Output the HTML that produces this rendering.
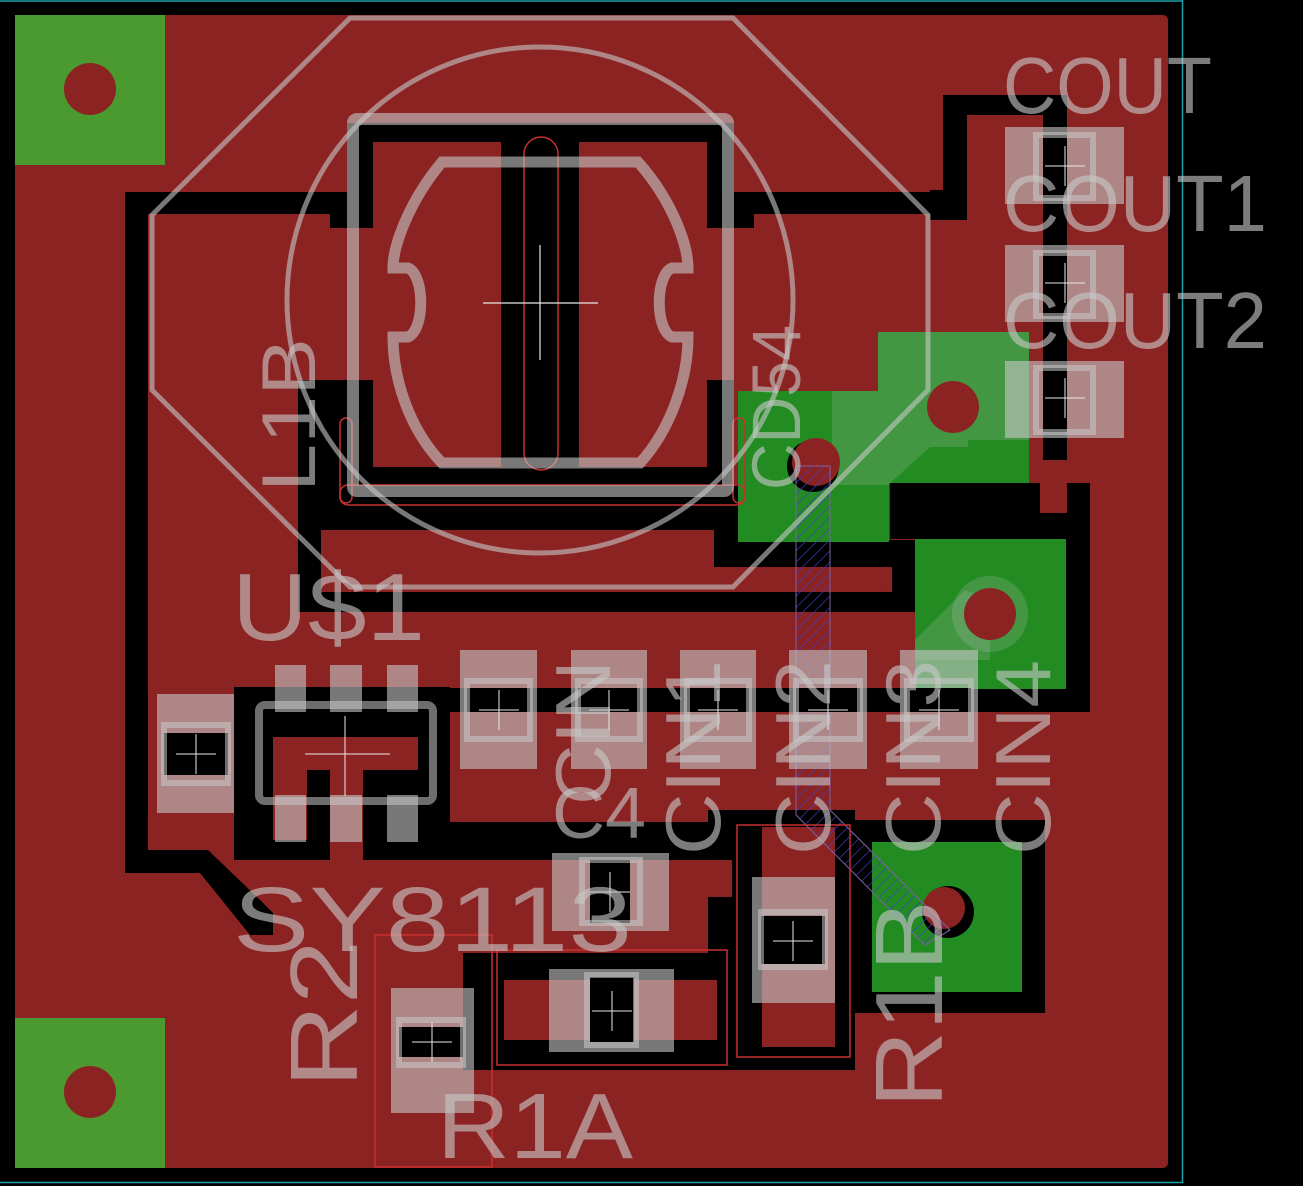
<!DOCTYPE html>
<html><head><meta charset="utf-8"><style>
html,body{margin:0;padding:0;background:#000;}
svg{display:block;}
text{font-family:"Liberation Sans",sans-serif;fill:#c8c8c8;fill-opacity:.62;}
</style></head><body>
<svg width="1303" height="1186" viewBox="0 0 1303 1186" xmlns="http://www.w3.org/2000/svg">
<defs>
<pattern id="h" width="8" height="8" patternUnits="userSpaceOnUse" patternTransform="rotate(45)">
<rect width="8" height="8" fill="none"/><line x1="0" y1="0" x2="0" y2="8" stroke="#4040c8" stroke-width="1.5"/>
</pattern>
</defs>
<rect width="1303" height="1186" fill="#000"/>
<line x1="0" y1="1" x2="1183" y2="1" stroke="#1fa0a8" stroke-width="1.5"/>
<line x1="1182.5" y1="0" x2="1182.5" y2="1183" stroke="#1fa0a8" stroke-width="1.5"/>
<line x1="0" y1="1182.5" x2="1183" y2="1182.5" stroke="#1fa0a8" stroke-width="1.5"/>
<rect x="15" y="15" width="1153" height="1153" rx="5" fill="#8b2323"/>

<g fill="#000">
<rect x="125" y="192" width="248" height="22"/>
<rect x="125" y="192" width="23" height="680"/>
<path d="M125,850 L208,850 L260,900 L273,913 L273,935 L250,935 L200,873 L125,873Z"/>
<rect x="330" y="205" width="43" height="23"/>
<rect x="347" y="123" width="387" height="19"/>
<rect x="347" y="123" width="26" height="105"/>
<rect x="707" y="123" width="27" height="105"/>
<rect x="734" y="192" width="210" height="22"/>
<rect x="707" y="205" width="47" height="23"/>
<rect x="943" y="95" width="24" height="125"/>
<rect x="930" y="190" width="37" height="30"/>
<rect x="943" y="95" width="110" height="20"/>
<rect x="1043" y="95" width="24" height="370"/>
<rect x="501" y="142" width="78" height="325"/>
<rect x="347" y="380" width="26" height="104"/>
<rect x="707" y="380" width="27" height="104"/>
<rect x="347" y="467" width="387" height="17"/>
<rect x="298" y="380" width="75" height="104"/>
<rect x="298" y="484" width="23" height="128"/>
<rect x="298" y="484" width="439" height="46"/>
<rect x="714" y="484" width="24" height="83"/>
<rect x="714" y="540" width="201" height="27"/>
<rect x="892" y="540" width="23" height="72"/>
<rect x="298" y="592" width="617" height="20"/>
<rect x="890" y="483" width="200" height="56"/>
<rect x="1066" y="483" width="24" height="222"/>
<rect x="915" y="689" width="175" height="16"/>
<rect x="418" y="688" width="672" height="24"/>
<rect x="234" y="687" width="216" height="173"/>
<rect x="438" y="822" width="294" height="38"/>
<rect x="708" y="810" width="147" height="50"/>
<rect x="463" y="953" width="300" height="117"/>
<rect x="708" y="897" width="55" height="96"/>
<rect x="732" y="827" width="123" height="243"/>
<rect x="855" y="820" width="190" height="193"/>
</g>
<g fill="#8b2323">
<rect x="321" y="530" width="393" height="62"/>
<rect x="321" y="567" width="571" height="25" rx="10"/>
<rect x="273" y="737" width="145" height="33"/>
<rect x="273" y="770" width="34" height="70"/>
<rect x="330" y="770" width="33" height="90"/>
<rect x="504" y="980" width="213" height="60"/>
<rect x="1040" y="460" width="27" height="53"/>
<rect x="762" y="827" width="73" height="220"/>
</g>

<rect x="15" y="15" width="150" height="150" fill="#4a9a30"/>
<circle cx="90" cy="89" r="26" fill="#8b2323"/>
<rect x="15" y="1018" width="150" height="150" fill="#4a9a30"/>
<circle cx="90" cy="1092" r="26" fill="#8b2323"/>
<g fill="#228b22">
<rect x="738" y="391" width="151" height="151"/>
<rect x="878" y="332" width="151" height="151"/>
<rect x="915" y="539" width="151" height="150"/>
<rect x="872" y="842" width="150" height="150"/>
</g>
<path d="M832,391 L878,391 L878,332 L1029,332 L1029,440 L968,440 L968,447 L930,447 L888,485 L832,485Z" fill="#c8c8c8" fill-opacity=".2"/>
<circle cx="990" cy="614" r="38" fill="#c8c8c8" fill-opacity=".2"/>
<path d="M915,640 L965,590 L990,600 L990,660 L915,660Z" fill="#c8c8c8" fill-opacity=".2"/>
<circle cx="953" cy="407" r="26" fill="#8b2323"/>
<circle cx="813" cy="466" r="26" fill="#000"/>
<circle cx="816" cy="462" r="24" fill="#8b2323"/>
<circle cx="990" cy="614" r="26" fill="#8b2323"/>
<circle cx="948" cy="912" r="26" fill="#000"/>
<circle cx="944" cy="908" r="21" fill="#8b2323"/>

<path d="M796,466 L830,466 L830,810 L950,930 L925,945 L796,815Z" fill="url(#h)" stroke="#8060a0" stroke-width="1" fill-opacity=".9"/>

<g fill="none" stroke="#c83030" stroke-width="1.5">
<rect x="375" y="935" width="117" height="232"/>
<rect x="497" y="950" width="230" height="115"/>
<rect x="737" y="825" width="113" height="232"/>
<rect x="340" y="418" width="12" height="85" rx="6"/>
<rect x="733" y="418" width="12" height="85" rx="6"/>
<rect x="340" y="485" width="405" height="20" rx="8"/>
<rect x="524" y="137" width="34" height="333" rx="17"/>
</g>

<g stroke="#c8c8c8" stroke-opacity=".6" fill="none">
<path d="M152,215 L350,18 L733,18 L928,215 L928,390 L733,587 L350,587 L152,390Z" stroke-width="5"/>
<circle cx="540" cy="300" r="253" stroke-width="5"/>
<rect x="353" y="119" width="375" height="372" stroke-width="12" rx="4"/>
<path d="M442,162 L638,162 C672,200 688,245 688,268 L672,268 C655,275 655,330 672,337 L688,337 C688,380 670,430 640,463 L442,463 C410,430 393,380 393,337 L408,337 C425,330 425,275 408,268 L393,268 C393,245 410,200 442,162Z" stroke-width="11"/>
</g>
<g stroke="#e8e8e8" stroke-width="1.2">
<line x1="483" y1="303" x2="598" y2="303"/><line x1="540" y1="245" x2="540" y2="360"/>
</g>

<g fill="#c8c8c8" fill-opacity=".6">
<rect x="1005" y="127" width="119" height="77"/>
<rect x="1005" y="245" width="119" height="77"/>
<rect x="1005" y="361" width="119" height="77"/>
<rect x="460" y="650" width="77" height="119"/>
<rect x="571" y="650" width="76" height="119"/>
<rect x="680" y="650" width="76" height="119"/>
<rect x="789" y="650" width="78" height="119"/>
<rect x="900" y="650" width="78" height="119"/>
<rect x="157" y="694" width="77" height="119"/>
<rect x="275" y="665" width="31" height="47"/>
<rect x="330" y="665" width="32" height="47"/>
<rect x="387" y="665" width="31" height="47"/>
<rect x="275" y="795" width="31" height="47"/>
<rect x="330" y="795" width="32" height="47"/>
<rect x="387" y="795" width="31" height="47"/>
<rect x="552" y="853" width="117" height="78"/>
<rect x="549" y="969" width="125" height="83"/>
<rect x="391" y="988" width="83" height="125"/>
<rect x="752" y="877" width="83" height="126"/>
</g>
<g fill="#000">
<rect x="1043" y="135" width="24" height="63"/>
<rect x="1043" y="253" width="24" height="63"/>
<rect x="1043" y="368" width="24" height="64"/>
<rect x="467" y="688" width="63" height="24"/>
<rect x="578" y="688" width="62" height="24"/>
<rect x="687" y="688" width="62" height="24"/>
<rect x="796" y="688" width="64" height="24"/>
<rect x="907" y="688" width="64" height="24"/>
<rect x="164" y="733" width="64" height="42"/>
<rect x="590" y="860" width="40" height="63"/>
<rect x="590" y="977" width="44" height="65"/>
<rect x="399" y="1027" width="64" height="30"/>
<rect x="761" y="916" width="64" height="48"/>
</g>
<g fill="none" stroke="#c8c8c8" stroke-opacity=".55" stroke-width="6">
<rect x="1036" y="135" width="57" height="63"/>
<rect x="1036" y="253" width="57" height="63"/>
<rect x="1036" y="368" width="57" height="64"/>
<rect x="467" y="681" width="63" height="58"/>
<rect x="578" y="681" width="62" height="58"/>
<rect x="687" y="681" width="62" height="58"/>
<rect x="796" y="681" width="64" height="58"/>
<rect x="907" y="681" width="64" height="58"/>
<rect x="164" y="725" width="64" height="58"/>
<rect x="582" y="860" width="58" height="63"/>
<rect x="587" y="975" width="49" height="70"/>
<rect x="399" y="1020" width="64" height="45"/>
<rect x="761" y="912" width="64" height="55"/>
<rect x="259" y="705" width="174" height="96" rx="6" stroke-width="8"/>
</g>
<g stroke="#e8e8e8" stroke-width="1">
<path d="M1045,166h40M1065,146v40M1045,283h40M1065,263v40M1045,398h40M1065,378v40"/>
<path d="M479,710h40M499,690v40M589,710h40M609,690v40M698,710h40M718,690v40M808,710h40M828,690v40M919,710h40M939,690v40"/>
<path d="M176,754h40M196,734v40M305,754h85M345,716v80M590,892h40M610,872v40M592,1011h40M612,991v40M412,1042h40M432,1022v40M773,941h40M793,921v40"/>
</g>

<text x="1003" y="113" font-size="80" textLength="209" lengthAdjust="spacingAndGlyphs">COUT</text>
<text x="1003" y="231" font-size="80" textLength="264" lengthAdjust="spacingAndGlyphs">COUT1</text>
<text x="1003" y="348" font-size="80" textLength="264" lengthAdjust="spacingAndGlyphs">COUT2</text>
<text x="232" y="640" font-size="96" textLength="193" lengthAdjust="spacingAndGlyphs">U$1</text>
<text x="233" y="951" font-size="92" textLength="399" lengthAdjust="spacingAndGlyphs">SY8113</text>
<text x="437" y="1158" font-size="93" textLength="196" lengthAdjust="spacingAndGlyphs">R1A</text>
<text x="552" y="838" font-size="72" textLength="94" lengthAdjust="spacingAndGlyphs">C4</text>
<text transform="translate(315,492) rotate(-90)" font-size="76" textLength="154" lengthAdjust="spacingAndGlyphs">L1B</text>
<text transform="translate(800,490) rotate(-90)" font-size="69" textLength="165" lengthAdjust="spacingAndGlyphs">CD54</text>
<text transform="translate(357,1088) rotate(-90)" font-size="96" textLength="148" lengthAdjust="spacingAndGlyphs">R2</text>
<text transform="translate(942,1108) rotate(-90)" font-size="96" textLength="208" lengthAdjust="spacingAndGlyphs">R1B</text>
<text transform="translate(610,805) rotate(-90)" font-size="78" textLength="145" lengthAdjust="spacingAndGlyphs">CIN</text>
<text transform="translate(720,855) rotate(-90)" font-size="78" textLength="195" lengthAdjust="spacingAndGlyphs">CIN1</text>
<text transform="translate(830,855) rotate(-90)" font-size="78" textLength="195" lengthAdjust="spacingAndGlyphs">CIN2</text>
<text transform="translate(940,855) rotate(-90)" font-size="78" textLength="195" lengthAdjust="spacingAndGlyphs">CIN3</text>
<text transform="translate(1050,855) rotate(-90)" font-size="78" textLength="195" lengthAdjust="spacingAndGlyphs">CIN4</text>
</svg>
</body></html>
